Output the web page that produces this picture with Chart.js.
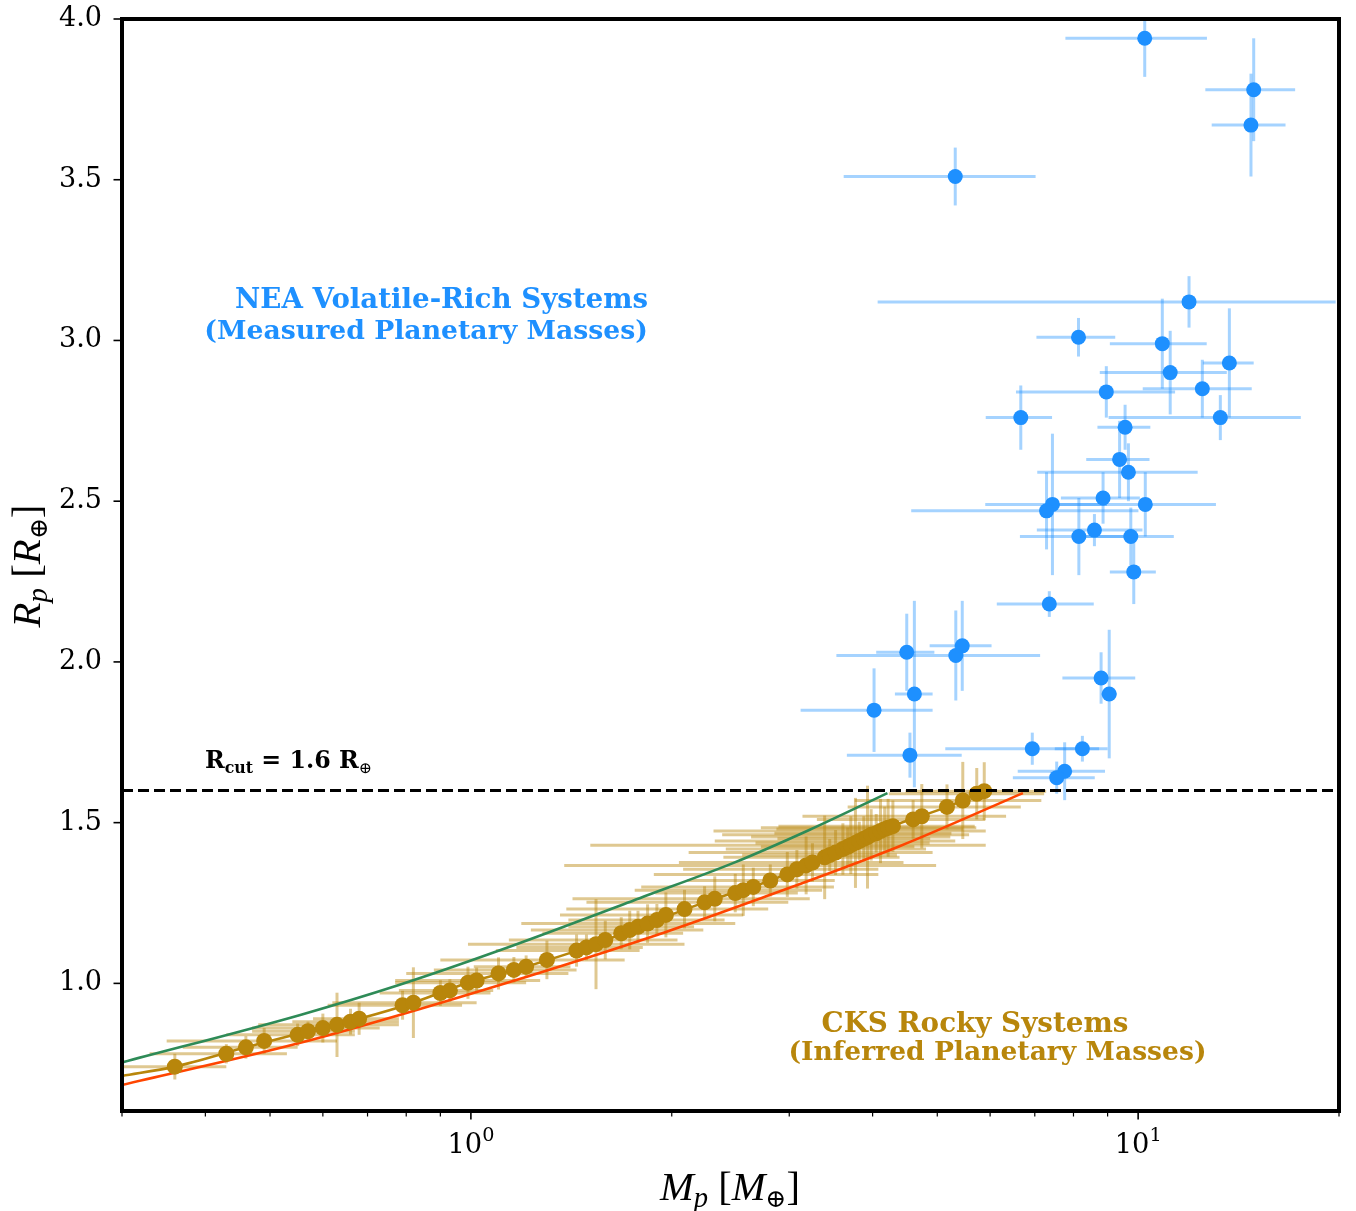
<!DOCTYPE html>
<html lang="en">
<head>
<meta charset="UTF-8">
<title>Planet mass-radius: NEA and CKS systems</title>
<script src="https://cdn.jsdelivr.net/npm/chart.js@4"></script>
<style>
  html, body { margin: 0; padding: 0; background: #fff; }
  #wrap { width: 1356px; height: 1211px; }
</style>
</head>
<body>
<div id="wrap"><canvas id="mr" width="1356" height="1211"></canvas></div>
<script>
// NEA volatile-rich planets, measured masses (M_earth) and radii (R_earth)
const neaMass    = [10.23, 14.90, 14.76, 5.32, 11.92, 8.14, 10.87, 13.70, 11.17, 12.48, 8.96, 6.67, 13.28, 9.56, 9.38, 9.67, 8.86, 10.25, 7.44, 7.29, 8.60, 8.15, 9.75, 9.85, 7.36, 4.50, 5.45, 5.33, 4.62, 4.02, 4.55, 8.80, 9.05, 6.94, 8.25, 7.76, 7.55];
const neaMassErr = [2.45, 2.29, 1.87, 1.70, 7.85, 1.10, 1.80, 1.20, 2.41, 2.32, 2.40, 0.76, 4.25, 0.87, 1.02, 2.61, 1.20, 2.83, 1.54, 2.72, 1.55, 1.50, 1.56, 0.78, 1.22, 0.45, 0.58, 1.80, 0.30, 0.90, 0.89, 1.10, 0.24, 1.80, 0.75, 1.16, 1.06];
const neaRad     = [3.94, 3.78, 3.67, 3.51, 3.12, 3.01, 2.99, 2.93, 2.90, 2.85, 2.84, 2.76, 2.76, 2.73, 2.63, 2.59, 2.51, 2.49, 2.49, 2.47, 2.41, 2.39, 2.39, 2.28, 2.18, 2.03, 2.05, 2.02, 1.90, 1.85, 1.71, 1.95, 1.90, 1.73, 1.73, 1.66, 1.64];
const neaRadErr  = [0.12, 0.16, 0.16, 0.09, 0.08, 0.06, 0.14, 0.17, 0.13, 0.09, 0.08, 0.10, 0.07, 0.07, 0.12, 0.09, 0.08, 0.10, 0.22, 0.12, 0.05, 0.12, 0.09, 0.10, 0.04, 0.12, 0.14, 0.14, 0.29, 0.13, 0.07, 0.08, 0.20, 0.05, 0.04, 0.09, 0.05];

// CKS rocky planets, inferred masses
const cksMass    = [0.36, 0.43, 0.46, 0.49, 0.55, 0.57, 0.60, 0.63, 0.66, 0.68, 0.79, 0.82, 0.90, 0.93, 0.99, 1.02, 1.10, 1.16, 1.21, 1.30, 1.44, 1.49, 1.54, 1.59, 1.68, 1.73, 1.78, 1.84, 1.90, 1.96, 2.09, 2.24, 2.32, 2.49, 2.56, 2.65, 2.81, 2.98, 3.08, 3.18, 3.25, 3.39, 3.45, 3.52, 3.61, 3.67, 3.71, 3.77, 3.82, 3.88, 3.93, 3.98, 4.05, 4.11, 4.17, 4.22, 4.29, 4.60, 4.74, 5.17, 5.46, 5.73, 5.88];
const cksMassErr = [0.07, 0.10, 0.09, 0.14, 0.12, 0.10, 0.13, 0.15, 0.12, 0.10, 0.18, 0.20, 0.17, 0.15, 0.22, 0.25, 0.30, 0.28, 0.20, 0.40, 0.35, 0.32, 0.55, 0.45, 0.40, 0.50, 0.38, 0.65, 0.50, 0.60, 0.70, 0.75, 0.90, 0.60, 0.80, 0.85, 0.70, 1.10, 1.00, 1.80, 1.20, 1.00, 0.90, 1.40, 1.20, 0.95, 2.20, 1.10, 1.50, 1.00, 1.30, 1.60, 1.20, 1.80, 1.30, 1.50, 1.40, 1.30, 1.60, 1.50, 1.70, 1.50, 1.40];
const cksRad     = [0.741, 0.781, 0.801, 0.821, 0.840, 0.851, 0.861, 0.871, 0.881, 0.890, 0.932, 0.940, 0.970, 0.978, 1.002, 1.009, 1.031, 1.042, 1.052, 1.073, 1.102, 1.112, 1.122, 1.135, 1.156, 1.166, 1.176, 1.186, 1.197, 1.213, 1.231, 1.252, 1.263, 1.281, 1.290, 1.300, 1.320, 1.339, 1.355, 1.367, 1.376, 1.392, 1.399, 1.407, 1.418, 1.425, 1.430, 1.437, 1.443, 1.450, 1.455, 1.462, 1.467, 1.474, 1.480, 1.484, 1.489, 1.510, 1.520, 1.549, 1.569, 1.590, 1.598];
const cksRadErr  = [0.04, 0.03, 0.035, 0.04, 0.035, 0.03, 0.045, 0.10, 0.04, 0.05, 0.045, 0.11, 0.04, 0.035, 0.05, 0.04, 0.05, 0.04, 0.035, 0.06, 0.05, 0.04, 0.14, 0.06, 0.05, 0.06, 0.05, 0.06, 0.05, 0.07, 0.06, 0.05, 0.07, 0.06, 0.08, 0.06, 0.05, 0.07, 0.06, 0.09, 0.06, 0.13, 0.05, 0.07, 0.08, 0.06, 0.09, 0.14, 0.06, 0.07, 0.16, 0.08, 0.06, 0.10, 0.07, 0.09, 0.08, 0.06, 0.10, 0.07, 0.12, 0.08, 0.09];

// mass-radius curves
const fitMass   = [0.30, 0.36, 0.46, 0.57, 0.68, 0.82, 0.99, 1.21, 1.49, 1.84, 2.24, 2.81, 3.45, 4.17, 5.17, 5.88];
const fitRad    = [0.712, 0.741, 0.801, 0.851, 0.890, 0.940, 1.002, 1.052, 1.112, 1.186, 1.252, 1.320, 1.399, 1.480, 1.549, 1.598];
const upperMass = [0.30, 0.555, 0.78, 1.105, 1.79, 2.47, 3.22, 4.21];
const upperRad  = [0.754, 0.902, 0.995, 1.103, 1.265, 1.374, 1.478, 1.592];
const lowerMass = [0.30, 0.555, 1.105, 1.96, 2.68, 4.38, 6.72];
const lowerRad  = [0.684, 0.815, 0.995, 1.16, 1.26, 1.426, 1.592];

const rCut = 1.6;
const xMin = 0.3, xMax = 20;
const yMin = 0.603, yMax = 4.0;
const xMajor = [1, 10];
const xMinor = [0.3, 0.4, 0.5, 0.6, 0.7, 0.8, 0.9, 2, 3, 4, 5, 6, 7, 8, 9, 20];
const yTicks = [1.0, 1.5, 2.0, 2.5, 3.0, 3.5, 4.0];

const BLUE = '#1E90FF';
const GOLD = '#B8860B';
const SERIF = '"Liberation Serif", "DejaVu Serif", serif';
const DJV = '"DejaVu Serif", serif';

const pts = (xs, ys) => xs.map((v, i) => ({ x: v, y: ys[i] }));

function drawRuns(ctx, parts, x, y, align, family, target) {
    const font = (p, k) => `${p.style || 'normal'} ${(p.size * k).toFixed(2)}px ${family}`;
    const measure = k => parts.reduce((s, p) => { ctx.font = font(p, k); return s + ctx.measureText(p.t).width; }, 0);
    const k = target ? target / measure(1) : 1;
    const w = measure(k);
    let cx = align === 'right' ? x - w : align === 'center' ? x - w / 2 : x;
    for (const p of parts) {
        ctx.font = font(p, k);
        ctx.fillText(p.t, cx, y + (p.dy || 0) * k);
        cx += ctx.measureText(p.t).width;
    }
}

// error bars drawn under the markers
const errorBars = {
    id: 'errorBars',
    beforeDatasetsDraw(chart) {
        const { ctx, chartArea: a, scales: { x, y } } = chart;
        ctx.save();
        ctx.beginPath();
        ctx.rect(a.left, a.top, a.width, a.height);
        ctx.clip();
        ctx.lineWidth = 3;
        const bars = (m, me, r, re, col) => {
            ctx.strokeStyle = col;
            for (let i = 0; i < m.length; i++) {
                const px = x.getPixelForValue(m[i]);
                const py = y.getPixelForValue(r[i]);
                ctx.beginPath();
                ctx.moveTo(x.getPixelForValue(Math.max(m[i] - me[i], 0.01)), py);
                ctx.lineTo(x.getPixelForValue(m[i] + me[i]), py);
                ctx.stroke();
                ctx.beginPath();
                ctx.moveTo(px, y.getPixelForValue(r[i] - re[i]));
                ctx.lineTo(px, y.getPixelForValue(r[i] + re[i]));
                ctx.stroke();
            }
        };
        bars(cksMass, cksMassErr, cksRad, cksRadErr, 'rgba(184,134,11,0.45)');
        bars(neaMass, neaMassErr, neaRad, neaRadErr, 'rgba(30,144,255,0.4)');
        ctx.restore();
    }
};

// frame, ticks, log labels, axis titles and annotations
const decorations = {
    id: 'decorations',
    afterDraw(chart) {
        const { ctx, chartArea: a, scales: { x, y } } = chart;
        ctx.save();
        ctx.strokeStyle = '#000';
        ctx.fillStyle = '#000';
        const seg = (x1, y1, x2, y2) => { ctx.beginPath(); ctx.moveTo(x1, y1); ctx.lineTo(x2, y2); ctx.stroke(); };

        ctx.lineWidth = 1.6;
        yTicks.forEach(v => { const py = y.getPixelForValue(v); seg(a.left, py, a.left - 8.5, py); });
        xMajor.forEach(v => { const px = x.getPixelForValue(v); seg(px, a.bottom, px, a.bottom + 8.5); });
        ctx.lineWidth = 1.2;
        xMinor.forEach(v => { const px = x.getPixelForValue(v); seg(px, a.bottom, px, a.bottom + 5.5); });

        ctx.lineWidth = 4;
        ctx.strokeRect(a.left, a.top, a.right - a.left, a.bottom - a.top);

        // 10^n labels
        ctx.textBaseline = 'alphabetic';
        ctx.textAlign = 'left';
        xMajor.forEach(v => {
            const px = x.getPixelForValue(v);
            drawRuns(ctx, [{ t: '10', size: 27 }, { t: String(Math.round(Math.log10(v))), size: 19, dy: -12 }], px, 1153, 'center', DJV, 47);
        });

        // axis titles
        drawRuns(ctx, [
            { t: 'M', size: 34, style: 'italic' }, { t: 'p', size: 24, style: 'italic', dy: 6 },
            { t: ' [', size: 34 }, { t: 'M', size: 34, style: 'italic' }, { t: '\u2295', size: 21, dy: 6 }, { t: ']', size: 34 }
        ], 730, 1200, 'center', SERIF, 140);
        ctx.save();
        ctx.translate(40, 566);
        ctx.rotate(-Math.PI / 2);
        drawRuns(ctx, [
            { t: 'R', size: 34, style: 'italic' }, { t: 'p', size: 24, style: 'italic', dy: 6 },
            { t: ' [', size: 34 }, { t: 'R', size: 34, style: 'italic' }, { t: '\u2295', size: 21, dy: 6 }, { t: ']', size: 34 }
        ], 0, 0, 'center', SERIF, 123);
        ctx.restore();

        // annotations
        ctx.fillStyle = BLUE;
        drawRuns(ctx, [{ t: 'NEA Volatile-Rich Systems', size: 26, style: 'bold' }], 648, 308, 'right', DJV, 413);
        drawRuns(ctx, [{ t: '(Measured Planetary Masses)', size: 26, style: 'bold' }], 648, 339, 'right', DJV, 444);
        ctx.fillStyle = GOLD;
        drawRuns(ctx, [{ t: 'CKS Rocky Systems', size: 26, style: 'bold' }], 975, 1032, 'center', DJV, 307);
        drawRuns(ctx, [{ t: '(Inferred Planetary Masses)', size: 26, style: 'bold' }], 997.5, 1060, 'center', DJV, 418);
        ctx.fillStyle = '#000';
        drawRuns(ctx, [
            { t: 'R', size: 24, style: 'bold' }, { t: 'cut', size: 16, style: 'bold', dy: 5 },
            { t: ' = 1.6 R', size: 24, style: 'bold' }, { t: '\u2295', size: 16, dy: 5 }
        ], 205, 768, 'left', DJV, 167);
        ctx.restore();
    }
};

new Chart(document.getElementById('mr'), {
    type: 'scatter',
    data: {
        datasets: [
            {
                type: 'line', data: pts(upperMass, upperRad), borderColor: '#2E8B57', borderWidth: 2.6,
                pointRadius: 0, cubicInterpolationMode: 'monotone', fill: false, order: 6
            },
            {
                type: 'line', data: pts(lowerMass, lowerRad), borderColor: '#FF4500', borderWidth: 2.6,
                pointRadius: 0, cubicInterpolationMode: 'monotone', fill: false, order: 6
            },
            {
                type: 'line', data: pts(fitMass, fitRad), borderColor: GOLD, borderWidth: 2.6,
                pointRadius: 0, cubicInterpolationMode: 'monotone', fill: false, order: 5
            },
            {
                data: pts(cksMass, cksRad), backgroundColor: GOLD, borderWidth: 0,
                pointRadius: 8, pointHoverRadius: 8, order: 4
            },
            {
                data: pts(neaMass, neaRad), backgroundColor: BLUE, borderWidth: 0,
                pointRadius: 7.5, pointHoverRadius: 7.5, order: 3
            },
            {
                type: 'line', data: [{ x: xMin, y: rCut }, { x: xMax, y: rCut }], borderColor: '#000',
                borderWidth: 3, borderDash: [11, 5], pointRadius: 0, fill: false, order: 1
            }
        ]
    },
    options: {
        responsive: false,
        devicePixelRatio: 1,
        animation: false,
        layout: { padding: { left: 0, right: 17, top: 19, bottom: 0 } },
        plugins: { legend: { display: false }, tooltip: { enabled: false } },
        scales: {
            x: {
                type: 'logarithmic', min: xMin, max: xMax,
                grid: { display: false, drawTicks: false }, border: { display: false },
                ticks: { display: false },
                afterBuildTicks: s => { s.ticks = xMajor.concat(xMinor).map(v => ({ value: v })); },
                afterFit: s => { s.height = 100; s.paddingLeft = 0; s.paddingRight = 0; }
            },
            y: {
                type: 'linear', min: yMin, max: yMax,
                grid: { display: false, drawTicks: false }, border: { display: false },
                ticks: {
                    color: '#000', padding: 20, font: { family: DJV, size: 27, lineHeight: 1 },
                    callback: v => Number(v).toFixed(1)
                },
                afterBuildTicks: s => { s.ticks = yTicks.map(v => ({ value: v })); },
                afterFit: s => { s.width = 122; s.paddingTop = 0; s.paddingBottom = 0; }
            }
        }
    },
    plugins: [errorBars, decorations]
});
</script>
</body>
</html>
